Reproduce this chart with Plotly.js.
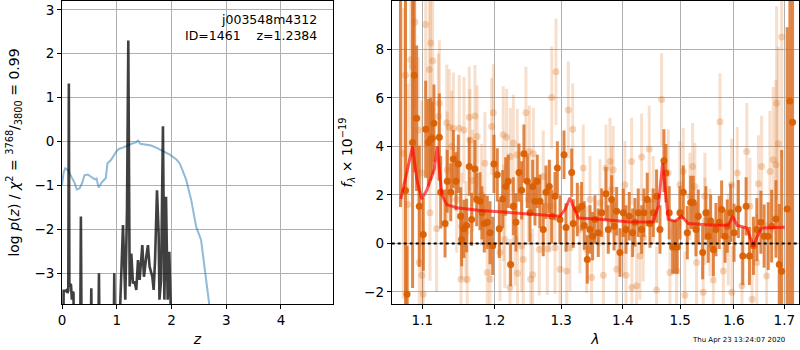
<!DOCTYPE html>
<html><head><meta charset="utf-8">
<script src="https://cdn.plot.ly/plotly-3.0.1.min.js"></script>
<style>html,body{margin:0;padding:0;background:#fff}#chart{width:800px;height:350px}</style>
</head><body><div id="chart"></div>
<script>
// ---- left panel: log p(z) ----
const pzZ = [0.02,0.03,0.07,0.09,0.10,0.115,0.125,0.135,0.15,0.165,0.18,0.20,0.21,0.22,
  0.33,0.345,0.36, 0.52,0.535,0.55, 0.66,0.675,0.69, 0.94,0.955,0.97,
  1.05,1.114,1.156,1.187,1.211,1.236,1.266,1.296,1.327,1.357,1.388,1.418,1.467,1.497,1.54,1.57,1.60,1.65,1.674,1.70,1.735,1.765,1.78,1.81,1.844,1.87,1.90,1.93,1.96,1.99];
const pzLog = [-5,-3.4,-3.4,-3.38,-3.45,-3.4,1.32,-3.3,-3.25,-3.27,-3.6,-3.42,-3.45,-5,
  -5,-1.71,-5, -5,-3.34,-5, -5,-3.0,-5, -5,-3.0,-5,
  -4.2,-1.90,-3.6,-1.56,2.30,-3.3,-2.55,-3.23,-3.19,-3.38,-2.70,-3.15,-2.36,-3.08,-2.62,-2.36,-2.85,-3.08,-3.38,-2.70,-1.11,-2.09,-3.6,-3.15,0.35,-3.6,-1.26,-3.6,-2.51,-4.0];
// ---- left panel: chi2 curve ----
const chiZ = [0,0.03,0.06,0.11,0.17,0.23,0.27,0.32,0.37,0.41,0.47,0.54,0.60,0.63,0.67,0.72,0.80,0.83,0.90,0.99,1.04,1.11,1.17,1.27,1.35,1.39,1.43,1.54,1.63,1.72,1.84,1.97,2.09,2.15,2.20,2.27,2.36,2.45,2.54,2.60,2.68,2.76];
const chiVal = [-0.99,-0.70,-0.61,-0.65,-0.80,-0.94,-1.09,-1.07,-0.94,-0.77,-0.75,-0.82,-0.86,-0.84,-1.05,-0.94,-0.83,-0.50,-0.41,-0.23,-0.17,-0.14,-0.10,-0.05,-0.02,0.02,-0.05,-0.08,-0.09,-0.14,-0.21,-0.30,-0.41,-0.50,-0.65,-0.88,-1.33,-1.94,-2.24,-2.85,-3.70,-4.4];

// ---- right panel: spectrum, dark points ----
const darkLam = [1.0715,1.078,1.080,1.0872,1.0893,1.0925,1.096,1.1013,1.1045,1.108,
 1.1111,1.1133,1.1155,1.1228,1.1246,1.1305,1.1335,1.1383,1.1418,1.1455,
 1.1487,1.1519,1.1533,1.1565,1.1602,1.1639,1.1672,1.1719,1.1743,1.179,
 1.1818,1.1851,1.1894,1.1933,1.1972,1.199,1.2038,1.2067,1.2116,1.216,
 1.2198,1.2233,1.2272,1.2312,1.2356,1.2396,1.243,1.248,1.2521,1.2561,
 1.2596,1.2631,1.2672,1.2722,1.2764,1.2815,1.2852,1.2903,1.294,1.2981,
 1.3044,1.3075,1.3165,1.319,1.3254,1.3323,1.3365,1.3414,1.3457,1.35,
 1.3538,1.3592,1.3648,1.3719,1.3757,1.3813,1.3852,1.3896,1.3951,1.4007,
 1.4053,1.4108,1.4166,1.4205,1.4262,1.432,1.436,1.4417,1.4464,1.4521,
 1.458,1.4639,1.4709,1.4744,1.4803,1.4864,1.4906,1.4947,1.4995,1.5055,
 1.5128,1.519,1.5237,1.5287,1.5329,1.541,1.547,1.5514,1.5559,1.5609,
 1.5658,1.5721,1.5766,1.583,1.5874,1.5939,1.6003,1.6086,1.6172,1.6237,
 1.6302,1.6381,1.6448,1.6528,1.6593,1.6675,1.6743,1.683,1.6897,1.6946,
 1.706,1.7115,1.717];
const darkFlux = [12,2.18,-2.1,4.16,6.94,5.16,1.53,0.37,4.71,4.16,
 4.30,4.34,4.96,4.38,2.11,0.82,2.56,2.11,3.48,2.56,
 3.28,1.12,0.16,0.60,0.74,3.17,0.99,3.07,1.81,1.74,
 1.26,0.82,0.87,0.44,-0.10,3.28,2.83,0.60,1.83,2.35,
 2.56,-0.87,1.53,0.87,2.92,2.19,3.70,2.56,1.26,2.35,
 1.74,2.56,1.74,0.57,2.11,2.35,1.12,1.95,3.11,0.99,
 3.66,0.66,2.92,0.82,1.40,1.53,0.74,-0.66,0.57,0.30,
 0.99,0.44,1.26,2.05,0.57,1.81,0.71,1.33,-0.38,1.26,
 0.57,1.12,0.44,0.87,1.26,0.57,1.26,1.81,0.82,1.26,
 1.95,0.57,3.41,2.90,1.26,-0.15,-0.15,-0.15,1.26,2.11,
 0.44,1.69,1.69,0.57,1.12,-0.38,1.26,0.30,0.92,-0.25,
 0.57,0.87,1.40,0.30,0.71,1.26,0.44,1.42,-0.52,1.53,
 -0.52,-0.10,0.57,0.87,0.30,0.30,0.71,1.01,-0.87,-1.15,
 1.42,5.87,5.00];
const darkErr = [10.5,9,2,6,4,3,2.5,1.5,2,1.8,
 1.7,1.5,1.6,1.8,1.5,1.4,1.3,1.2,1.2,1.2,
 1.2,1.2,1.1,1.2,1.1,1.2,1.1,1.2,1.1,1.2,
 1.1,1.2,1.1,1.3,1.2,1.2,1.1,1.2,1.2,1.2,
 1.1,0.9,1.2,1.2,1.2,1.2,1.2,1.1,1.2,1.1,
 1.0,1.1,1.1,1.1,1.1,1.1,1.1,1.0,1.1,1.0,
 1.0,1.0,1.0,1.0,1.1,1.0,1.0,1.0,1.0,1.0,
 1.0,1.0,1.0,1.1,1.0,1.0,1.0,1.0,1.0,1.0,
 1.0,1.0,1.0,1.0,1.0,1.0,1.0,1.1,1.0,1.0,
 1.1,1.0,1.3,1.2,1.1,1.1,1.1,1.1,1.1,1.1,
 1.1,1.1,1.1,1.1,1.1,1.1,1.1,1.1,1.1,1.1,
 1.1,1.1,1.2,1.1,1.1,1.2,1.2,1.2,1.2,1.2,
 1.2,1.2,1.3,1.3,1.3,1.4,1.5,1.6,2.5,5,
 7.5,12,12];

// ---- right panel: spectrum, light points ----
const lightLam = [1.0752,1.078,1.081,1.0849,1.087,1.0903,1.0946,1.096,1.0992,1.0995,
 1.1013,1.1045,1.1093,1.1102,1.1111,1.1138,1.1191,1.1214,1.1228,1.1328,
 1.1335,1.1363,1.1396,1.1418,1.1465,1.15,1.1524,1.1533,1.1565,1.1592,
 1.1611,1.1639,1.1649,1.1686,1.1719,1.1751,1.1813,1.186,1.1894,1.1933,
 1.1957,1.1981,1.2077,1.2125,1.213,1.2148,1.2174,1.2223,1.2228,1.2272,
 1.2297,1.2331,1.2335,1.2396,1.242,1.246,1.2496,1.2511,1.2532,1.2561,
 1.2571,1.2661,1.2722,1.2784,1.2825,1.2852,1.2903,1.2918,1.2981,1.3086,
 1.3112,1.3138,1.3181,1.3296,1.3349,1.3404,1.3457,1.3484,1.362,1.3676,
 1.3719,1.3785,1.3813,1.3839,1.3896,1.4007,1.4035,1.4053,1.4148,1.4152,
 1.4234,1.4291,1.432,1.4348,1.4452,1.4521,1.458,1.4668,1.4786,1.4816,
 1.4935,1.4995,1.5055,1.5085,1.5177,1.5225,1.5266,1.5298,1.5421,1.5451,
 1.5455,1.5546,1.5609,1.5734,1.5798,1.5893,1.5957,1.596,1.6066,1.6156,
 1.625,1.6312,1.6354,1.6448,1.648,1.6543,1.6643,1.6709,1.6776,1.683,
 1.6844,1.6877,1.6946];
const lightFlux = [3.72,6.94,1.60,7.58,7.31,9.13,4.68,-0.79,2.90,-1.31,
 -2.09,9.03,7.17,1.26,8.27,7.53,0.60,5.23,5.78,4.98,
 3.04,4.79,4.00,4.75,1.81,4.75,-1.48,0.71,4.68,0.46,
 -1.48,5.20,4.27,2.60,5.26,4.41,2.01,3.31,-1.20,-1.48,
 4.82,5.39,-0.38,4.48,1.26,0.16,4.38,-1.82,3.59,4.14,
 0.16,3.66,-1.23,-0.11,-0.66,5.39,1.81,3.79,-1.48,-1.29,
 3.70,-0.25,2.76,-0.22,1.53,6.02,-0.18,7.08,-1.07,-1.14,
 5.50,-0.18,4.71,0.57,3.11,-0.25,1.81,-1.41,1.67,-1.31,
 3.11,3.38,2.22,3.04,-1.07,0.44,2.42,-1.31,3.38,-1.82,
 -1.75,-0.52,3.56,0.23,3.89,1.81,-1.92,5.94,2.90,-1.20,
 -1.14,2.42,2.97,-2.14,1.94,3.17,2.35,-0.79,-2.02,1.94,
 0.92,0.44,-1.51,5.02,-1.14,0.16,2.42,-2.02,2.90,-1.75,
 3.79,1.53,-2.30,-0.79,2.46,3.17,-1.34,2.97,3.45,3.24,
 5.78,4.11,8.51];
const lightErr = [6,5,5,4,4,3.5,3,3,3,3,
 3,3,3,2.8,3,2.8,2.6,2.6,2.6,2.4,
 2.4,2.4,2.3,2.3,2.2,2.2,2.2,2.2,2.2,2.1,
 2.1,2.1,2.1,2.1,2.1,2.1,2.1,2.1,2.0,2.0,
 2.0,2.0,2.0,2.0,2.0,2.0,2.0,2.0,2.0,2.0,
 1.9,1.9,1.9,1.9,1.9,1.9,1.9,1.9,1.9,1.9,
 1.9,1.9,1.9,1.9,1.9,2.1,1.9,2.2,1.9,1.9,
 2.0,1.8,1.9,1.8,1.8,1.8,1.8,1.8,1.8,1.8,
 1.8,1.8,1.8,1.8,1.8,1.8,1.8,1.8,1.8,1.8,
 1.8,1.8,1.8,1.8,1.8,1.8,1.8,1.9,1.8,1.8,
 1.8,1.8,1.8,1.8,1.8,1.8,1.8,1.8,1.8,1.8,
 1.8,1.8,1.8,2.0,1.8,1.9,1.9,1.9,1.9,1.9,
 2.0,2.0,2.0,2.0,2.0,2.1,2.2,2.5,3,3.5,
 4,4,5];

// ---- right panel: model ----
const modelLam = [1.072,1.080,1.0872,1.0930,1.0992,1.1060,1.1124,1.1160,1.1199,1.1230,1.126,1.1328,1.1465,1.179,1.227,1.298,1.306,1.3138,1.319,1.327,1.3566,1.406,1.412,1.452,1.461,1.4686,1.4727,1.4786,1.4906,1.5025,1.5146,1.5609,1.5893,1.5977,1.6066,1.625,1.633,1.6378,1.6444,1.6543,1.7006];
const modelFlux = [1.83,3.0,4.0,2.6,1.83,2.2,2.77,3.05,4.0,3.0,2.01,1.60,1.47,1.36,1.26,1.12,1.40,1.88,1.53,1.05,1.01,0.92,0.88,0.88,1.53,3.31,2.35,0.99,0.92,1.12,0.82,0.75,0.75,1.12,0.74,0.64,0.16,-0.14,0.23,0.64,0.67];

const xTicksR = [1.1,1.2,1.3,1.4,1.5,1.6,1.7];
const FONT = 'DejaVu Sans, sans-serif';

const traces = [
  {x: chiZ, y: chiVal, mode:'lines', line:{color:'rgba(31,119,180,0.5)', width:2}, xaxis:'x', yaxis:'y', hoverinfo:'skip'},
  {x: pzZ, y: pzLog, mode:'lines', line:{color:'rgba(0,0,0,0.75)', width:2.6}, xaxis:'x', yaxis:'y', hoverinfo:'skip'},
  {x: lightLam, y: lightFlux, mode:'markers', xaxis:'x2', yaxis:'y2',
   marker:{color:'rgba(217,95,2,0.25)', size:7},
   error_y:{type:'data', array: lightErr, visible:true, thickness:3, width:0, color:'rgba(217,95,2,0.2)'}},
  {x: darkLam, y: darkFlux, mode:'markers', xaxis:'x2', yaxis:'y2',
   marker:{color:'rgba(217,95,2,0.95)', size:7},
   error_y:{type:'data', array: darkErr, visible:true, thickness:3, width:0, color:'rgba(217,105,25,0.8)'}},
  {x: modelLam, y: modelFlux, mode:'lines', xaxis:'x2', yaxis:'y2', line:{color:'rgba(255,0,0,0.65)', width:3}}
];

const axBase = {showline:true, mirror:true, linecolor:'#000', linewidth:1, ticks:'outside', ticklen:4, tickcolor:'#000',
  gridcolor:'#b0b0b0', gridwidth:1, zeroline:false, tickfont:{family:FONT, size:13.5, color:'#000'}};

// plot area spans px 1..304 vertically (303 px tall)
const py2paper = py => (304 - py) / 303;

const layout = {
  width:800, height:350, margin:{l:0, r:0, t:1, b:46}, showlegend:false,
  paper_bgcolor:'#fff', plot_bgcolor:'#fff', font:{family:FONT, color:'#000'},
  xaxis: Object.assign({}, axBase, {domain:[62/800, 333/800], range:[0,4.95], tickvals:[0,1,2,3,4], anchor:'y',
    title:{text:'<i>z</i>', font:{family:FONT, size:14}, standoff:6}}),
  yaxis: Object.assign({}, axBase, {range:[-3.7,3.2], tickvals:[-3,-2,-1,0,1,2,3], anchor:'x',
    title:{text:'log <i>p</i>(<i>z</i>) / <i>χ</i><sup>2</sup> = <sup>3768</sup>/<sub>3800</sub> = 0.99', font:{family:FONT, size:14}, standoff:11}}),
  xaxis2: Object.assign({}, axBase, {domain:[391.7/800, 799/800], type:'log', range:[0.02541,0.23813], tickvals:xTicksR,
    ticktext: xTicksR.map(v=>v.toFixed(1)), anchor:'y2',
    title:{text:'<i>λ</i>', font:{family:FONT, size:14}, standoff:6}}),
  yaxis2: Object.assign({}, axBase, {range:[-2.5,10], tickvals:[-2,0,2,4,6,8], anchor:'x2',
    title:{text:'<i>f</i><sub><i>λ</i></sub> × 10<sup>−19</sup>', font:{family:FONT, size:14}, standoff:8}}),
  shapes: [{type:'line', xref:'x2 domain', yref:'y2', x0:0, x1:1, y0:0, y1:0, line:{color:'#000', width:2, dash:'dot'}}],
  annotations: [
    {xref:'paper', yref:'paper', x:319/800, y:py2paper(19), xanchor:'right', yanchor:'middle', showarrow:false,
     text:'j003548m4312', font:{family:FONT, size:12.5, color:'#000'}},
    {xref:'paper', yref:'paper', x:319/800, y:py2paper(35), xanchor:'right', yanchor:'middle', showarrow:false,
     text:'ID=1461    z=1.2384', font:{family:FONT, size:12.5, color:'#000'}},
    {xref:'paper', yref:'paper', x:787/800, y:py2paper(340), xanchor:'right', yanchor:'middle', showarrow:false,
     text:'Thu Apr 23 13:24:07 2020', font:{family:FONT, size:7, color:'#000'}}
  ]
};

Plotly.newPlot('chart', traces, layout, {staticPlot:true, displayModeBar:false});
</script>
</body></html>
